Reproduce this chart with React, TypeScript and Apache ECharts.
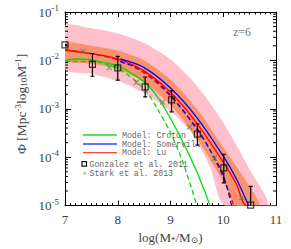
import React, { useEffect, useRef } from 'react';
import * as echarts from 'echarts';

// ---- data (log10 stellar mass, number density) ----
const gonzalezM = [7.0, 7.52, 8.0, 8.52, 9.02, 9.51, 10.01, 10.52];
const gonzalezPhi = [2.1e-2, 8.3e-3, 7.0e-3, 2.85e-3, 1.53e-3, 3.0e-4, 6.0e-5, 1.02e-5];
const gonzalezHi = [2.1e-2, 1.39e-2, 1.21e-2, 4.5e-3, 2.36e-3, 4.9e-4, 1.15e-4, 2.5e-5];
const gonzalezLo = [2.1e-2, 4.7e-3, 3.9e-3, 1.76e-3, 8.6e-4, 1.78e-4, 2.95e-5, 1e-6];

const starkM = [7.34, 7.84, 8.35, 8.85, 9.36, 9.83, 10.35];
const starkPhi = [1.55e-2, 7.1e-3, 3.5e-3, 1.37e-3, 4.2e-4, 9.5e-5, 1.46e-5];

const luM = [7.0, 7.5, 8.0, 8.5, 9.0, 9.5, 10.0, 10.25, 10.45, 11.0];
const luPhi = [1.62e-2, 1.38e-2, 1.07e-2, 6.0e-3, 2.19e-3, 5.0e-4, 7.9e-5, 2.8e-5, 1.0e-5, 1.0e-5];
const luDashM = [7.0, 7.5, 8.0, 8.5, 9.0, 9.5, 9.75, 10.0, 10.2];
const luDashPhi = [1.66e-2, 1.38e-2, 1.02e-2, 5.5e-3, 1.82e-3, 4.0e-4, 1.41e-4, 3.8e-5, 1.0e-5];

const somM = [8.05, 8.5, 9.0, 9.5, 10.0, 10.25, 10.48];
const somPhi = [1.07e-2, 7.1e-3, 2.69e-3, 6.6e-4, 1.05e-4, 3.55e-5, 1.0e-5];
const somDashM = [8.05, 8.5, 9.0, 9.5, 9.75, 10.0, 10.16];
const somDashPhi = [9.3e-3, 6.0e-3, 1.9e-3, 3.8e-4, 1.41e-4, 4.2e-5, 1.0e-5];

const crotonM = [7.0, 7.25, 7.5, 8.0, 8.5, 8.75, 9.0, 9.25, 9.5, 9.75];
const crotonPhi = [1.0e-2, 1.07e-2, 1.02e-2, 7.6e-3, 3.6e-3, 1.78e-3, 6.3e-4, 1.9e-4, 5.0e-5, 1.0e-5];
const crotonDashM = [7.0, 7.5, 8.0, 8.5, 8.75, 9.0, 9.25, 9.5];
const crotonDashPhi = [9.5e-3, 9.5e-3, 6.8e-3, 2.6e-3, 1.0e-3, 3.2e-4, 7.1e-5, 1.0e-5];

const pinkUpM = [7.0, 7.5, 8.0, 8.5, 9.0, 9.5, 10.0, 10.5, 10.85];
const pinkUpPhi = [5.25e-2, 4.6e-2, 3.6e-2, 2.3e-2, 1.05e-2, 3.0e-3, 5.2e-4, 5.6e-5, 1.0e-5];
const pinkLoM = [7.0, 7.5, 8.0, 8.5, 9.0, 9.4, 9.75, 10.02];
const pinkLoPhi = [6.6e-3, 5.25e-3, 3.8e-3, 2.1e-3, 8.9e-4, 3.16e-4, 6.3e-5, 1.0e-5];
const orangeUpM = [7.0, 7.5, 8.0, 8.5, 9.0, 9.5, 10.0, 10.5, 10.68];
const orangeUpPhi = [2.3e-2, 2.0e-2, 1.58e-2, 1.0e-2, 4.0e-3, 1.0e-3, 1.58e-4, 2.5e-5, 1.0e-5];
const orangeLoM = [7.0, 7.5, 8.0, 8.5, 9.0, 9.5, 10.0, 10.25];
const orangeLoPhi = [9.8e-3, 8.5e-3, 6.6e-3, 3.55e-3, 1.2e-3, 2.4e-4, 3.16e-5, 1.0e-5];

const xTicks = [7, 8, 9, 10, 11];
const legendLabels = ['Model: Croton', 'Model: Somerville', 'Model: Lu', 'Gonzalez et al. 2011', 'Stark et al. 2013'];

const SERIF = 'Liberation Serif, DejaVu Serif, serif';
const MONO = 'Liberation Mono, DejaVu Sans Mono, monospace';

const pairs = (xs: number[], ys: number[]) => xs.map((x, i) => [x, ys[i]]);

function bandSeries(upM: number[], upP: number[], loM: number[], loP: number[], color: string) {
  return {
    type: 'custom',
    clip: true,
    silent: true,
    data: [[7, 1e-3]],
    renderItem: (params: any, api: any) => {
      const pts: number[][] = [];
      upM.forEach((m, i) => pts.push(api.coord([m, upP[i]])));
      for (let i = loM.length - 1; i >= 0; i--) pts.push(api.coord([loM[i], loP[i]]));
      return {
        type: 'polygon',
        shape: { points: pts, smooth: 0.25 },
        style: { fill: color, stroke: 'none' },
      };
    },
    z: 1,
  };
}

function lineSeries(xs: number[], ys: number[], color: string, dashed: boolean, z: number) {
  return {
    type: 'line',
    data: pairs(xs, ys),
    showSymbol: false,
    symbol: 'none',
    smooth: 0.3,
    clip: true,
    lineStyle: { color, width: 1.3, type: dashed ? [5, 3] : 'solid' },
    z,
  };
}

export default function App() {
  const ref = useRef<HTMLDivElement>(null);
  useEffect(() => {
    if (!ref.current) return;
    const chart = echarts.init(ref.current, undefined, { renderer: 'svg' });

    const minorVals: number[][] = [];
    for (let d = -5; d <= -2; d++) {
      for (let m = 2; m <= 9; m++) minorVals.push([7, m * Math.pow(10, d)]);
    }

    const axisCommon = {
      axisLine: { show: true, lineStyle: { color: '#000', width: 1 } },
      splitLine: { show: false },
    };

    const option: any = {
      animation: false,
      backgroundColor: '#fff',
      grid: { left: 65, right: 15, top: 12, bottom: 41, containLabel: false },
      xAxis: [
        {
          type: 'value', min: 7, max: 11, interval: 1, position: 'bottom',
          ...axisCommon,
          axisTick: { show: true, inside: true, length: 5, lineStyle: { color: '#000' } },
          minorTick: { show: true, splitNumber: 10, length: 2.5, lineStyle: { color: '#000' } },
          axisLabel: {
            show: true, margin: 7, fontSize: 13, fontFamily: SERIF, color: '#444',
            formatter: (v: number) => (xTicks.includes(v) ? String(v) : ''),
          },
          name: '{a|log(M}{sub|*}{a|/M}{sub|⊙}{a|)}',
          nameLocation: 'middle',
          nameGap: 21,
          nameTextStyle: {
            rich: {
              a: { fontSize: 13, fontFamily: SERIF, color: '#444' },
              sub: { fontSize: 9, fontFamily: SERIF, color: '#444', padding: [5, 0, 0, 0] },
            },
          },
        },
        {
          type: 'value', min: 7, max: 11, interval: 1, position: 'top',
          ...axisCommon,
          axisTick: { show: true, inside: true, length: 5, lineStyle: { color: '#000' } },
          minorTick: { show: true, splitNumber: 10, length: 2.5, lineStyle: { color: '#000' } },
          axisLabel: { show: false },
        },
      ],
      yAxis: [
        {
          type: 'log', logBase: 10, min: 1e-5, max: 1e-1, position: 'left',
          ...axisCommon,
          axisTick: { show: true, inside: true, length: 6, lineStyle: { color: '#000' } },
          axisLabel: {
            show: true, margin: 6, fontFamily: SERIF, color: '#444',
            formatter: (v: number) => `{b|10}{s|${Math.round(Math.log10(v))}}`,
            rich: {
              b: { fontSize: 13, fontFamily: SERIF, color: '#444' },
              s: { fontSize: 9, fontFamily: SERIF, color: '#444', padding: [0, 0, 8, 0] },
            },
          },
        },
        {
          type: 'log', logBase: 10, min: 1e-5, max: 1e-1, position: 'right',
          ...axisCommon,
          axisTick: { show: true, inside: true, length: 6, lineStyle: { color: '#000' } },
          axisLabel: { show: false },
        },
      ],
      series: [
        bandSeries(pinkUpM, pinkUpPhi, pinkLoM, pinkLoPhi, '#ffc0cb'),
        bandSeries(orangeUpM, orangeUpPhi, orangeLoM, orangeLoPhi, '#f7936f'),
        lineSeries(crotonM, crotonPhi, '#00dd00', false, 3),
        lineSeries(crotonDashM, crotonDashPhi, '#00dd00', true, 3),
        lineSeries(luDashM, luDashPhi, '#ff0000', true, 4),
        lineSeries(somDashM, somDashPhi, '#0000ff', true, 4),
        lineSeries(luM, luPhi, '#ff0000', false, 5),
        lineSeries(somM, somPhi, '#0000ff', false, 5),
        {
          type: 'custom',
          clip: true,
          data: gonzalezM.map((m, i) => [m, gonzalezHi[i], gonzalezLo[i]]),
          encode: { x: 0, y: [1, 2] },
          renderItem: (params: any, api: any) => {
            const hi = api.coord([api.value(0), api.value(1)]);
            const lo = api.coord([api.value(0), api.value(2)]);
            const st = { stroke: '#000', lineWidth: 1.2 };
            return {
              type: 'group',
              children: [
                { type: 'line', shape: { x1: hi[0], y1: hi[1], x2: lo[0], y2: lo[1] }, style: st },
                { type: 'line', shape: { x1: hi[0] - 2, y1: hi[1], x2: hi[0] + 2, y2: hi[1] }, style: st },
                { type: 'line', shape: { x1: lo[0] - 2, y1: lo[1], x2: lo[0] + 2, y2: lo[1] }, style: st },
              ],
            };
          },
          z: 6,
        },
        {
          type: 'scatter',
          data: pairs(gonzalezM, gonzalezPhi),
          symbol: 'rect',
          symbolSize: 6,
          clip: true,
          itemStyle: { color: 'rgba(0,0,0,0)', borderColor: '#111', borderWidth: 1.2 },
          z: 7,
        },
        {
          type: 'scatter',
          data: pairs(starkM, starkPhi),
          symbol: 'path://M0,0L10,10M10,0L0,10',
          symbolSize: 5,
          itemStyle: { color: 'none', borderColor: '#6f7f55', borderWidth: 1.2 },
          z: 7,
        },
        {
          type: 'custom',
          silent: true,
          data: minorVals,
          renderItem: (params: any, api: any) => {
            const v = api.value(1);
            const l = api.coord([7, v]);
            const r = api.coord([11, v]);
            const st = { stroke: '#000', lineWidth: 1 };
            return {
              type: 'group',
              children: [
                { type: 'line', shape: { x1: l[0], y1: l[1], x2: l[0] + 3, y2: l[1] }, style: st },
                { type: 'line', shape: { x1: r[0], y1: r[1], x2: r[0] - 3, y2: r[1] }, style: st },
              ],
            };
          },
          z: 8,
        },
      ],
      graphic: [
        {
          type: 'text', x: 21, y: 154, rotation: Math.PI / 2,
          style: {
            text: '{a|Φ [Mpc}{sup|-3}{a|log}{sub|10}{a|M}{sup|-1}{a|]}',
            align: 'left', verticalAlign: 'middle',
            rich: {
              a: { fontSize: 13.5, fontFamily: SERIF, fill: '#444' },
              sup: { fontSize: 9, fontFamily: SERIF, fill: '#444', padding: [0, 0, 7, 0] },
              sub: { fontSize: 9, fontFamily: SERIF, fill: '#444', padding: [5, 0, 0, 0] },
            },
          },
        },
        { type: 'text', left: 233, top: 26, style: { text: 'z=6', fontSize: 12, fontFamily: SERIF, fill: '#777' } },
        { type: 'line', shape: { x1: 83, y1: 135, x2: 117, y2: 135 }, style: { stroke: '#22dd22', lineWidth: 1.3 } },
        { type: 'line', shape: { x1: 83, y1: 144, x2: 117, y2: 144 }, style: { stroke: '#3344ff', lineWidth: 1.3 } },
        { type: 'line', shape: { x1: 83, y1: 152.7, x2: 117, y2: 152.7 }, style: { stroke: '#ff4444', lineWidth: 1.3 } },
        { type: 'rect', shape: { x: 82, y: 161.7, width: 4.5, height: 4.5 }, style: { fill: 'none', stroke: '#111', lineWidth: 1.2 } },
        { type: 'text', x: 84.5, y: 173, style: { text: '×', fontSize: 8, lineHeight: 8, fontFamily: SERIF, fill: '#6f7f55', align: 'center', verticalAlign: 'middle' } },
        ...legendLabels.map((t, i) => ({
          type: 'text',
          x: i < 3 ? 122 : 89.5,
          y: [135, 144, 152.7, 164, 173][i],
          style: { text: t, fontSize: 8.2, lineHeight: 8, fontFamily: MONO, fill: '#666', verticalAlign: 'middle' },
        })),
      ],
    };
    chart.setOption(option);
    return () => chart.dispose();
  }, []);
  return (
    <div
      ref={ref}
      style={{ position: 'fixed', left: 0, top: 0, width: 291, height: 249, background: '#fff' }}
    />
  );
}
